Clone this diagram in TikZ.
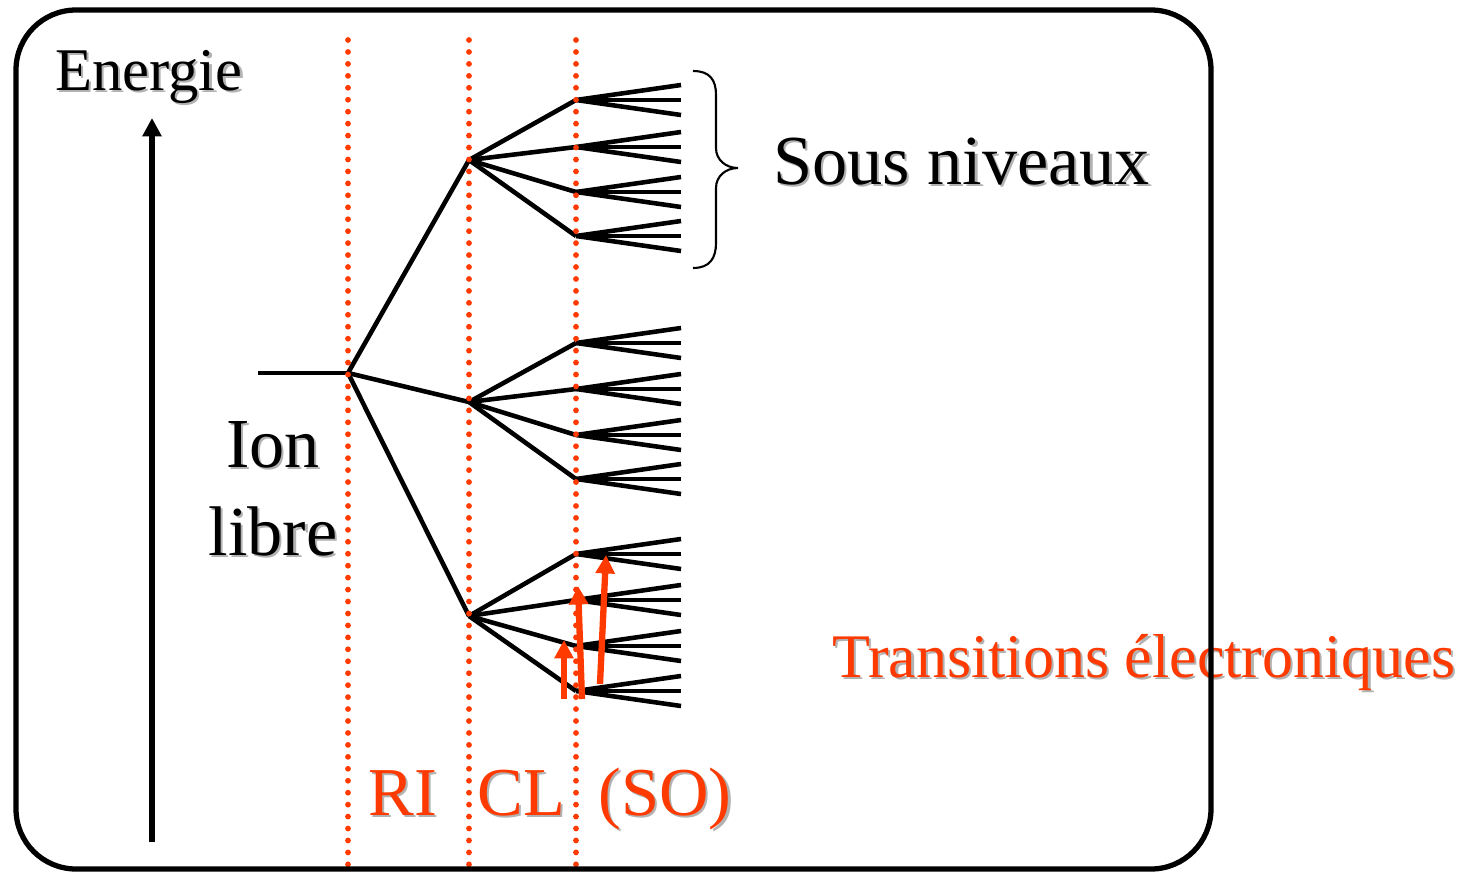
\documentclass[tikz,border=0pt]{standalone}
\usepackage{fontspec}
\setmainfont{Liberation Serif}
\usetikzlibrary{arrows.meta}

\definecolor{rosso}{RGB}{255,58,0}
% testo con ombra grigia
\newcommand{\ombra}[1]{\makebox[0pt][l]{\hspace{1.3pt}\raisebox{-1.3pt}{\textcolor{black!30}{#1}}}#1}

\begin{document}
\begin{tikzpicture}[x=0.02cm, y=-0.02cm,
    livello/.style={line width=2.6pt},
    taglio/.style={rosso, line width=3.3pt, line cap=round, dash pattern=on 0pt off 6.8pt},
    salto/.style={rosso, line width=3.6pt, -{Triangle[width=10.5pt,length=10.5pt]}},
    testo/.style={inner sep=0pt, font=\fontsize{40}{48}\selectfont}]

    \useasboundingbox (0,0) rectangle (1472,873);

    % Asse dell'energia
    \coordinate (e0) at (152,842);
    \coordinate (e1) at (152,118);
    \draw[line width=3pt, -{Triangle[width=10.5pt,length=10.5pt]}] (e0) -- (e1);
    \node[testo, anchor=base, font=\fontsize{34.5}{40}\selectfont] (energie) at (149,90) {\ombra{Energie}};

    % Livelli: ione libero e repulsione interelettronica
    \coordinate (libre) at (258,373);
    \coordinate (ri) at (348,373);
    \coordinate (cl1) at (469,160);
    \coordinate (cl2) at (469,402);
    \coordinate (cl3) at (469,616);
    \draw[livello] (libre) -- (ri);
    \foreach \c in {cl1,cl2,cl3} \draw[livello] (ri) -- (\c);

    % Campo dei leganti e spin-orbita
    \foreach \g/\ys in {1/{100,147,192,236}, 2/{343,389,435,479}, 3/{554,600,646,691}} {
        \foreach \y [count=\k] in \ys {
            \coordinate (so\g\k) at (576,\y);
            \draw[livello] (cl\g) -- (so\g\k);
            \foreach \d [count=\m] in {-15,0,15} {
                \coordinate (so\g\k-\m) at (681,\y+\d);
                \draw[livello] (so\g\k) -- (so\g\k-\m);
            }
        }
    }

    % Linee tratteggiate
    \foreach \x/\n in {348/ri, 469/cl, 576/so} {
        \coordinate (\n-top) at (\x,40);
        \coordinate (\n-bot) at (\x,873);
        \draw[taglio] (\n-top) -- (\n-bot);
    }

    % Parentesi graffa
    \draw[line width=1.2pt] (693,71) .. controls (710,71) and (716,80) .. (716,95)
        -- (716,148) .. controls (716,160) and (726,168) .. (738,168)
        .. controls (726,168) and (716,176) .. (716,188)
        -- (716,243) .. controls (716,258) and (710,268) .. (693,268);

    % Transizioni
    \coordinate (t1a) at (564,699); \coordinate (t1b) at (564,640);
    \coordinate (t2a) at (582,699); \coordinate (t2b) at (578,586);
    \coordinate (t3a) at (600,684); \coordinate (t3b) at (606,555);
    \draw[salto] (t1a) -- (t1b);
    \draw[salto] (t2a) -- (t2b);
    \draw[salto] (t3a) -- (t3b);

    % Etichette
    \node[testo, anchor=base west] (sous) at (773,184) {\ombra{Sous niveaux}};
    \node[testo, anchor=base] (ion) at (273,467) {\ombra{Ion}};
    \node[testo, anchor=base] (ion-libre) at (273,555) {\ombra{libre}};
    \node[testo, text=rosso, anchor=base west, font=\fontsize{35.3}{42}\selectfont] (trans) at (832,677) {\ombra{Transitions électroniques}};
    \node[testo, text=rosso, anchor=base west, font=\fontsize{39}{46}\selectfont] (ri-t) at (368,815) {\ombra{RI}};
    \node[testo, text=rosso, anchor=base west, font=\fontsize{39}{46}\selectfont] (cl-t) at (477,815) {\ombra{CL}};
    \node[testo, text=rosso, anchor=base west, font=\fontsize{39}{46}\selectfont] (so-t) at (598,815) {\ombra{(SO)}};

    % Cornice
    \draw[line width=3pt, rounded corners=1.2cm] (16,10) rectangle (1211,869);
\end{tikzpicture}
\end{document}
